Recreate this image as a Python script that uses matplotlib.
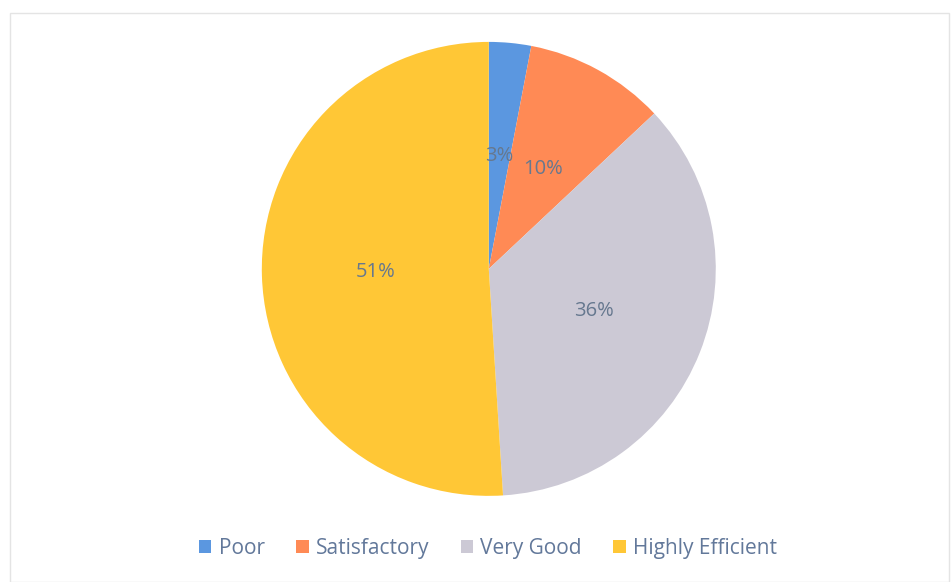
import matplotlib.pyplot as plt
from matplotlib.patches import Rectangle

labels = ['Poor', 'Satisfactory', 'Very Good', 'Highly Efficient']
shares = [3, 10, 36, 51]
colors = ['#5b97e0', '#ff8a55', '#ccc9d5', '#ffc736']

plt.rcParams['font.family'] = ['Open Sans', 'DejaVu Sans']

fig = plt.figure(figsize=(9.53, 5.82), dpi=100)
# faint frame round the chart area like the original screenshot
fig.patches.append(Rectangle((0.011, 0.0), 0.985, 0.978, transform=fig.transFigure,
                             fill=False, edgecolor='#e4e4e4', linewidth=1))

ax = fig.add_axes([0.2747, 0.148, 0.4764, 0.780])
wedges, texts, autotexts = ax.pie(shares, colors=colors, startangle=90, counterclock=False,
                                  autopct='%d%%', pctdistance=0.5,
                                  textprops={'color': '#66788f', 'fontsize': 14.5})
ax.set_xlim(-1, 1)
ax.set_ylim(-1, 1)
ax.set_aspect('equal')

ax.legend(wedges, labels, loc='center', bbox_to_anchor=(0.512, 0.058),
          bbox_transform=fig.transFigure, ncol=4, frameon=False,
          fontsize=15, labelcolor='#62789a', handlelength=0.6, handleheight=0.6,
          handletextpad=0.35, columnspacing=1.5)

plt.savefig('out.png', dpi=100)
